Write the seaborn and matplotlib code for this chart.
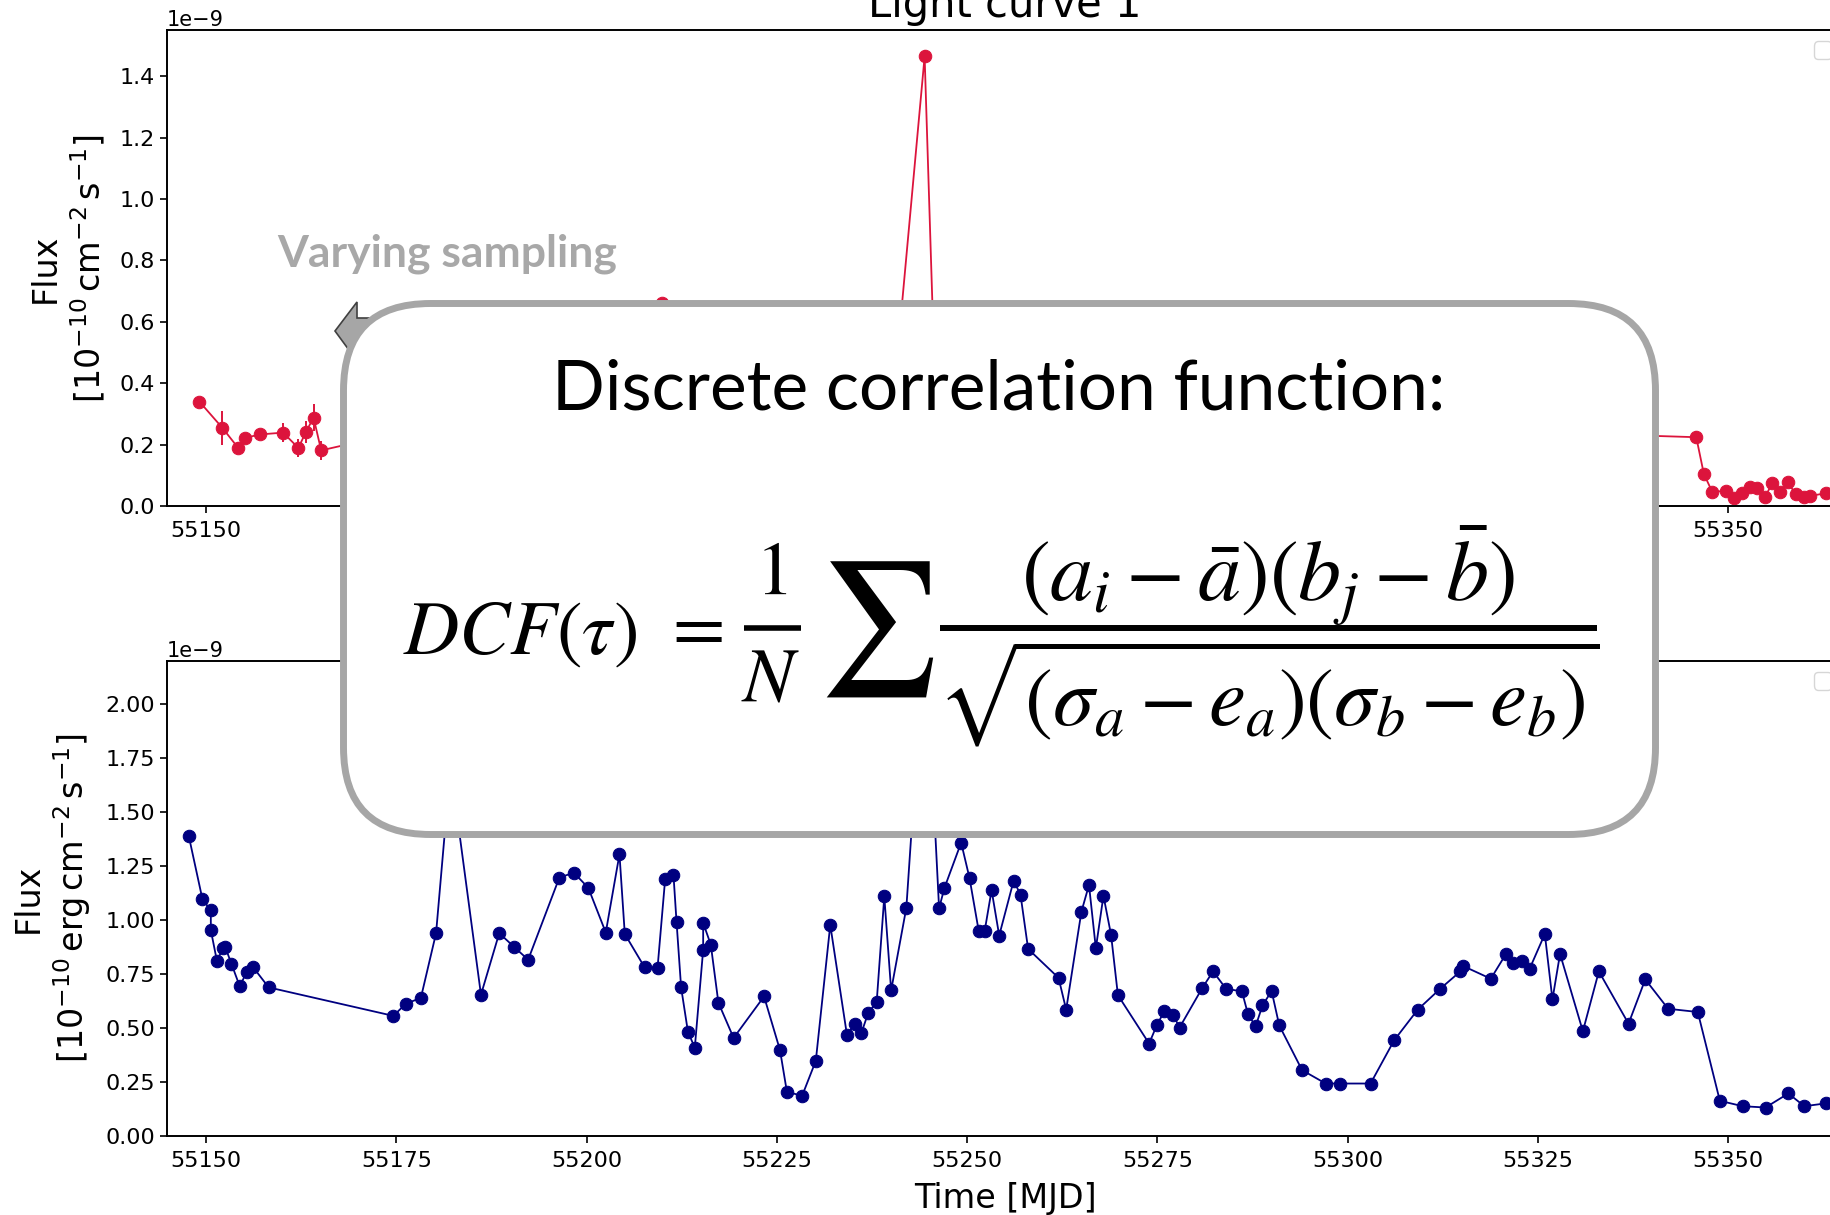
import matplotlib
matplotlib.use("Agg")
import matplotlib.pyplot as plt
import seaborn as sns
from matplotlib.patches import FancyBboxPatch, Polygon
from matplotlib.lines import Line2D
from matplotlib.ticker import MultipleLocator

# Light curve 1 (top panel), flux in units of 1e-9
lc1_mjd = [55149.1, 55152.1, 55154.2, 55155.1, 55157.1, 55160.1, 55162.1, 55163.1,
           55164.1, 55165.1, 55172.0, 55185.0, 55198.0, 55209.9, 55218.0, 55230.0,
           55240.0, 55244.4, 55245.8, 55262.0, 55285.0, 55310.0, 55328.0, 55338.0,
           55345.8, 55346.8, 55347.9, 55349.7, 55350.8, 55351.8, 55352.8, 55353.8,
           55354.8, 55355.8, 55356.8, 55357.8, 55358.9, 55359.9, 55360.8, 55362.8]
lc1_flux = [0.340, 0.255, 0.189, 0.222, 0.233, 0.239, 0.189, 0.241,
            0.288, 0.181, 0.22, 0.30, 0.42, 0.66, 0.38, 0.33,
            0.27, 1.465, 0.36, 0.30, 0.26, 0.24, 0.25, 0.23,
            0.224, 0.104, 0.046, 0.049, 0.025, 0.041, 0.063, 0.057,
            0.028, 0.074, 0.044, 0.077, 0.038, 0.028, 0.033, 0.041]
lc1_err = [0.01, 0.055, 0.02, 0.015, 0.015, 0.03, 0.03, 0.035,
           0.045, 0.03, 0.02, 0.03, 0.03, 0.01, 0.03, 0.03,
           0.03, 0.02, 0.03, 0.03, 0.02, 0.02, 0.02, 0.02,
           0.02, 0.01, 0.01, 0.01, 0.01, 0.01, 0.01, 0.01,
           0.01, 0.01, 0.01, 0.01, 0.01, 0.01, 0.01, 0.01]

# Light curve 2 (bottom panel), flux in units of 1e-9
lc2_mjd = [55147.7, 55149.5, 55150.6, 55150.6, 55151.4, 55152.2, 55152.5, 55153.3,
           55154.4, 55155.3, 55156.1, 55158.2, 55174.6, 55176.2, 55178.2, 55180.2,
           55182.1, 55186.1, 55188.5, 55190.4, 55192.3, 55196.4, 55198.3, 55200.2,
           55202.5, 55204.3, 55205.0, 55207.6, 55209.3, 55210.3, 55211.4, 55211.8,
           55212.4, 55213.3, 55214.2, 55215.3, 55215.3, 55216.3, 55217.3, 55219.3,
           55223.3, 55225.4, 55226.3, 55228.3, 55230.1, 55232.0, 55234.2, 55235.2,
           55236.1, 55237.0, 55238.1, 55239.1, 55240.0, 55242.0, 55243.9, 55244.8,
           55246.3, 55247.0, 55249.2, 55250.3, 55251.5, 55252.3, 55253.2, 55254.2,
           55256.1, 55257.0, 55258.0, 55262.0, 55263.0, 55265.0, 55266.0, 55266.9,
           55267.9, 55268.9, 55269.8, 55273.9, 55274.9, 55275.9, 55277.1, 55277.9,
           55280.9, 55282.3, 55284.0, 55286.1, 55286.9, 55287.9, 55288.8, 55290.0,
           55291.0, 55294.0, 55297.1, 55299.0, 55303.0, 55306.1, 55309.2, 55312.1,
           55314.8, 55315.1, 55318.8, 55320.8, 55321.7, 55322.9, 55323.9, 55325.9,
           55326.9, 55327.9, 55330.9, 55333.0, 55336.9, 55339.1, 55342.1, 55346.0,
           55348.9, 55351.9, 55354.9, 55357.9, 55360.0, 55362.8]
lc2_flux = [1.389, 1.096, 1.044, 0.953, 0.811, 0.868, 0.874, 0.798,
            0.693, 0.758, 0.784, 0.688, 0.556, 0.612, 0.639, 0.939,
            1.71, 0.654, 0.939, 0.877, 0.816, 1.196, 1.219, 1.149,
            0.942, 1.304, 0.935, 0.781, 0.777, 1.188, 1.207, 0.991,
            0.688, 0.482, 0.409, 0.863, 0.986, 0.886, 0.617, 0.454,
            0.646, 0.397, 0.205, 0.186, 0.348, 0.977, 0.466, 0.520,
            0.478, 0.571, 0.620, 1.109, 0.674, 1.057, 2.05, 2.10,
            1.054, 1.148, 1.358, 1.194, 0.951, 0.951, 1.138, 0.928,
            1.182, 1.117, 0.866, 0.732, 0.585, 1.038, 1.162, 0.869,
            1.112, 0.931, 0.652, 0.428, 0.512, 0.578, 0.558, 0.502,
            0.686, 0.762, 0.682, 0.669, 0.563, 0.508, 0.605, 0.671,
            0.512, 0.305, 0.243, 0.243, 0.243, 0.443, 0.585, 0.680,
            0.762, 0.788, 0.728, 0.843, 0.800, 0.812, 0.774, 0.935,
            0.632, 0.843, 0.485, 0.762, 0.520, 0.725, 0.589, 0.574,
            0.163, 0.138, 0.132, 0.197, 0.138, 0.151]

x_ticks = [55150, 55175, 55200, 55225, 55250, 55275, 55300, 55325, 55350]
# in the top panel only the outer labels are not covered by the callout box
top_xlabels = ["55150", "", "", "", "", "", "", "", "55350"]

plt.rcParams["font.family"] = "DejaVu Sans"
plt.rcParams["font.size"] = 16

fig = plt.figure(figsize=(18.31, 12.15), dpi=100)
ax1 = fig.add_axes([0.0912, 0.5836, 0.9153, 0.3914])
ax2 = fig.add_axes([0.0912, 0.0650, 0.9153, 0.3912])

flux1 = [f * 1e-9 for f in lc1_flux]
err1 = [e * 1e-9 for e in lc1_err]
flux2 = [f * 1e-9 for f in lc2_flux]

sns.lineplot(x=lc1_mjd, y=flux1, sort=False, estimator=None, color="crimson",
             marker="o", markersize=9, markeredgecolor="crimson", linewidth=1.3, ax=ax1)
ax1.errorbar(lc1_mjd, flux1, yerr=err1, fmt="none", ecolor="crimson", elinewidth=1.4)

sns.lineplot(x=lc2_mjd, y=flux2, sort=False, estimator=None, color="navy",
             marker="o", markersize=9, markeredgecolor="navy", linewidth=1.3, ax=ax2)

ax1.set_title("Light curve 1", fontsize=30, pad=9.5)
ax1.set_ylabel("Flux\n" + r"$[10^{-10}\,\mathrm{cm^{-2}\,s^{-1}}]$", fontsize=24, labelpad=9)
ax2.set_ylabel("Flux\n" + r"$[10^{-10}\,\mathrm{erg\,cm^{-2}\,s^{-1}}]$", fontsize=24, labelpad=9)
ax2.set_xlabel("Time [MJD]", fontsize=24, labelpad=8)

ax1.set_ylim(0, 1.55e-9)
ax2.set_ylim(0, 2.2e-9)
ax1.yaxis.set_major_locator(MultipleLocator(0.2e-9))
ax2.yaxis.set_major_locator(MultipleLocator(0.25e-9))

for ax in (ax1, ax2):
    ax.set_xlim(55144.84, 55365.07)
    ax.set_xticks(x_ticks)
    ax.ticklabel_format(axis="x", useOffset=False)
    ax.tick_params(labelsize=16, length=5, width=1.2)
    ax.tick_params(axis="x", pad=6)
    ax.yaxis.get_offset_text().set_fontsize(15)
    for s in ax.spines.values():
        s.set_linewidth(1.4)
    ax.legend(loc="upper right")

ax1.set_xticklabels(top_xlabels)

# overlay: callout box with the DCF definition
W, H = 1831, 1215


def fx(px):
    return px / W


def fy(py):
    return 1 - py / H


arrow = Polygon([(3.35, 8.84), (3.57, 9.13), (3.57, 8.97), (4.3, 8.97),
                 (4.3, 8.70), (3.57, 8.70), (3.57, 8.54)],
                closed=True, transform=fig.dpi_scale_trans,
                facecolor="#a6a6a6", edgecolor="#404040", linewidth=1.2, zorder=9)
fig.add_artist(arrow)

box = FancyBboxPatch((3.435, 3.805), 13.12, 5.31,
                     boxstyle="round,pad=0,rounding_size=0.87",
                     transform=fig.dpi_scale_trans, facecolor="white",
                     edgecolor="#a6a6a6", linewidth=5, zorder=10)
fig.add_artist(box)

fig.text(fx(277), fy(266), "Varying sampling", fontfamily="Lato", fontweight="bold",
         fontsize=32, color="#a8a8a8", ha="left", va="baseline", zorder=11)

fig.text(fx(999), fy(409), "Discrete correlation function:", fontfamily="Lato",
         fontsize=50, color="black", ha="center", va="baseline", zorder=11)

# formula, built piece by piece
math = dict(math_fontfamily="stix", color="black", zorder=11)
fig.text(fx(403), fy(654), r"$DCF(\tau)$", fontsize=55, ha="left", va="baseline", **math)
fig.text(fx(692), fy(628), r"$=$", fontsize=55, ha="center", va="center", **math)
fig.text(fx(771), fy(573), r"$1$", fontsize=55, ha="center", va="center", **math)
fig.text(fx(771), fy(679), r"$N$", fontsize=55, ha="center", va="center", **math)
fig.add_artist(Line2D([fx(744), fx(801)], [fy(628), fy(628)], transform=fig.transFigure,
                      color="black", linewidth=4, solid_capstyle="butt", zorder=11))
fig.text(fx(876), fy(629), r"$\sum$", fontsize=96, ha="center", va="center", **math)
fig.text(fx(1268), fy(576), r"$(a_i - \bar{a})(b_j - \bar{b})$", fontsize=62,
         ha="center", va="center", **math)
fig.add_artist(Line2D([fx(940), fx(1597)], [fy(628), fy(628)], transform=fig.transFigure,
                      color="black", linewidth=4.3, solid_capstyle="butt", zorder=11))
fig.text(fx(1268), fy(692), r"$\sqrt{(\sigma_a - e_a)(\sigma_b - e_b)}$", fontsize=60,
         ha="center", va="center", **math)

fig.savefig("out.png", dpi=100)
